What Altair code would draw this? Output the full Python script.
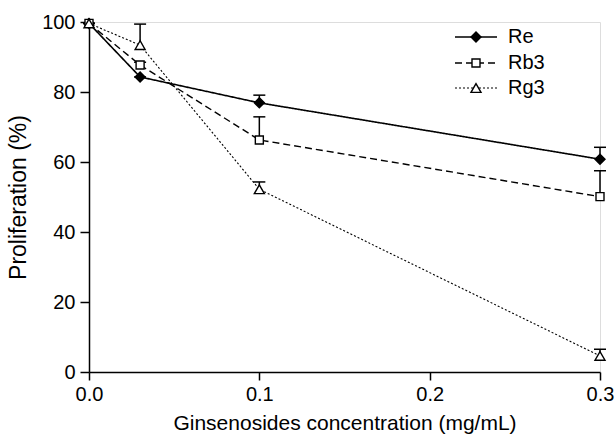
import altair as alt
import pandas as pd

# ---- data ----
conc = [0.0, 0.03, 0.1, 0.3]
series_names = ["Re", "Rb3", "Rg3"]
re_vals = [99.6, 84.3, 76.9, 60.8]
re_upper = [99.6, 84.3, 79.1, 64.2]
rb3_vals = [99.6, 87.7, 66.3, 50.1]
rb3_upper = [99.6, 88.5, 72.9, 57.5]
rg3_vals = [99.6, 93.4, 52.2, 4.6]
rg3_upper = [99.6, 99.4, 54.3, 6.5]

x_ticks = [0.0, 0.1, 0.2, 0.3]
y_ticks = [0, 20, 40, 60, 80, 100]

rows = []
for name, vals, ups in [("Re", re_vals, re_upper), ("Rb3", rb3_vals, rb3_upper), ("Rg3", rg3_vals, rg3_upper)]:
    for c, v, u in zip(conc, vals, ups):
        rows.append({"series": name, "conc": c, "value": v, "upper": u})
df = pd.DataFrame(rows)

FONT = "Liberation Sans"
shapes = {"Re": "diamond", "Rb3": "square", "Rg3": "triangle-up"}
fills = {"Re": "black", "Rb3": "white", "Rg3": "white"}
dashes = {"Re": [1, 0], "Rb3": [7, 4], "Rg3": [2, 2]}
widths = {"Re": 1.6, "Rb3": 1.4, "Rg3": 1.1}
sizes = {"Re": 100, "Rb3": 64, "Rg3": 100}

xs = alt.Scale(domain=[0, 0.3], nice=False)
ys = alt.Scale(domain=[0, 100], nice=False)
X = alt.X("conc:Q", scale=xs,
          axis=alt.Axis(values=x_ticks, format=".1f", title="Ginsenosides concentration (mg/mL)",
                        grid=False, domainColor="black", domainWidth=1.5, tickColor="black",
                        tickWidth=1.5, tickSize=8, labelPadding=4, labelFontSize=20,
                        labelFlush=False, labelOverlap=False,
                        labelFont=FONT, labelColor="black", titleFont=FONT, titleFontSize=21,
                        titleFontWeight="normal", titleColor="black", titlePadding=8))
Y = alt.Y("value:Q", scale=ys,
          axis=alt.Axis(values=y_ticks, title="Proliferation (%)", grid=False,
                        domainColor="black", domainWidth=1.5, tickColor="black", tickWidth=1.5,
                        tickSize=9, labelPadding=5, labelFontSize=20, labelFont=FONT,
                        labelFlush=False, labelOverlap=False,
                        labelColor="black", titleFont=FONT, titleFontSize=23,
                        titleFontWeight="normal", titleColor="black", titlePadding=11))

layers = []
# error bars first
for name in series_names:
    d = df[df.series == name]
    layers.append(alt.Chart(d).mark_rule(color="black", strokeWidth=1.5).encode(
        x=alt.X("conc:Q", scale=xs), y=alt.Y("value:Q", scale=ys), y2="upper:Q"))
    layers.append(alt.Chart(d).mark_point(shape="M-1,0L1,0", size=144, color="black",
                                         strokeWidth=1.5, filled=False, opacity=1).encode(
        x=alt.X("conc:Q", scale=xs), y=alt.Y("upper:Q", scale=ys)))
for name in series_names:
    d = df[df.series == name]
    layers.append(alt.Chart(d).mark_line(color="black", strokeWidth=widths[name],
                                         strokeDash=dashes[name]).encode(x=X, y=Y))
for name in series_names:
    d = df[df.series == name]
    layers.append(alt.Chart(d).mark_point(shape=shapes[name], size=sizes[name], fill=fills[name],
                                         stroke="black", strokeWidth=1.4, filled=True,
                                         opacity=1).encode(x=X, y=Y))

# manual legend
leg_y = {"Re": 37, "Rb3": 63, "Rg3": 88}
for name in series_names:
    ld = pd.DataFrame({"label": [name]})
    layers.append(alt.Chart(ld).mark_rule(color="black", strokeWidth=widths[name],
                                          strokeDash=dashes[name]).encode(
        x=alt.value(366), x2=alt.value(408), y=alt.value(leg_y[name] - 22)))
    layers.append(alt.Chart(ld).mark_point(shape=shapes[name], size=sizes[name], fill=fills[name],
                                           stroke="black", strokeWidth=1.4, filled=True,
                                           opacity=1).encode(
        x=alt.value(387), y=alt.value(leg_y[name] - 22)))
    layers.append(alt.Chart(ld).mark_text(align="left", baseline="middle", font=FONT,
                                          fontSize=20, color="black").encode(
        x=alt.value(419), y=alt.value(leg_y[name] - 22), text="label:N"))

chart = alt.layer(*layers).properties(
    width=511, height=350,
    autosize=alt.AutoSizeParams(type="none"),
    padding={"left": 89, "top": 22, "right": 16, "bottom": 69},
).configure_view(stroke=None).configure(background="white")

chart.save("out.html", embed_options={"renderer": "svg", "actions": False})
